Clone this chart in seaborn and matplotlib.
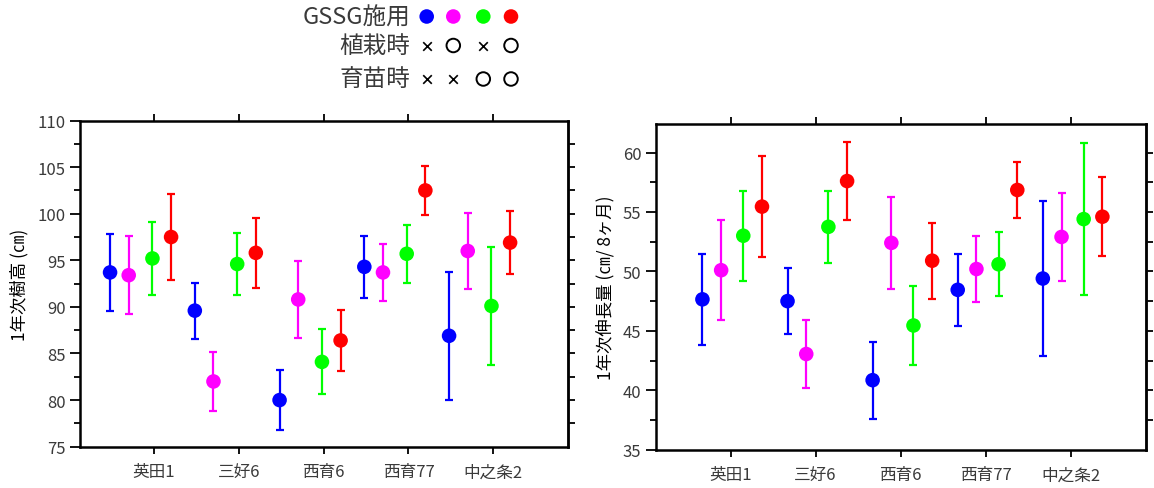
import matplotlib
matplotlib.use("Agg")
import matplotlib.pyplot as plt
from matplotlib.ticker import MultipleLocator, FixedLocator, NullFormatter
import numpy as np
import pandas as pd
import seaborn as sns

# ---- data -------------------------------------------------------------
cultivars = ["英田1", "三好6", "西育6", "西育77", "中之条2"]
treatments = ["T1", "T2", "T3", "T4"]
colors = ["#0000FF", "#FF00FF", "#00FF00", "#FF0000"]
planting_mark = ["×", "○", "×", "○"]   # GSSG at planting
nursery_mark = ["×", "×", "○", "○"]    # GSSG at nursery stage

# 1st-year tree height (cm): mean and SD per cultivar
height_t1 = [93.7, 89.6, 80.0, 94.3, 86.9]
height_t1_sd = [4.1, 3.0, 3.25, 3.3, 6.85]
height_t2 = [93.4, 82.0, 90.8, 93.7, 96.0]
height_t2_sd = [4.2, 3.2, 4.15, 3.1, 4.1]
height_t3 = [95.2, 94.6, 84.1, 95.7, 90.1]
height_t3_sd = [3.95, 3.3, 3.5, 3.1, 6.35]
height_t4 = [97.5, 95.8, 86.4, 102.5, 96.9]
height_t4_sd = [4.65, 3.75, 3.25, 2.6, 3.4]

# 1st-year shoot growth (cm / 8 months): mean and SD per cultivar
growth_t1 = [47.65, 47.5, 40.85, 48.45, 49.4]
growth_t1_sd = [3.85, 2.8, 3.25, 3.05, 6.5]
growth_t2 = [50.1, 43.05, 52.4, 50.2, 52.9]
growth_t2_sd = [4.2, 2.85, 3.9, 2.8, 3.7]
growth_t3 = [53.0, 53.75, 45.45, 50.6, 54.4]
growth_t3_sd = [3.8, 3.05, 3.35, 2.7, 6.4]
growth_t4 = [55.45, 57.6, 50.9, 56.85, 54.6]
growth_t4_sd = [4.25, 3.3, 3.2, 2.35, 3.3]


def long_frame(means, sds):
    rows = []
    for t, m_list, s_list in zip(treatments, means, sds):
        for i, (m, s) in enumerate(zip(m_list, s_list)):
            rows.append({"cultivar": i, "treatment": t, "mean": m, "sd": s})
    return pd.DataFrame(rows)


height_df = long_frame([height_t1, height_t2, height_t3, height_t4],
                       [height_t1_sd, height_t2_sd, height_t3_sd, height_t4_sd])
growth_df = long_frame([growth_t1, growth_t2, growth_t3, growth_t4],
                       [growth_t1_sd, growth_t2_sd, growth_t3_sd, growth_t4_sd])

# ---- style ------------------------------------------------------------
sns.set_theme(style="ticks")
plt.rcParams["font.family"] = ["Noto Sans CJK JP", "DejaVu Sans"]
TEXT = "#3a3a3a"

fig = plt.figure(figsize=(11.54, 4.89), dpi=100)
ax1 = fig.add_axes([0.0693, 0.0845, 0.4229, 0.6670])
ax2 = fig.add_axes([0.5685, 0.0783, 0.4246, 0.6661])


def draw_panel(ax, df, offsets, ylim, ylabel):
    df = df.copy()
    off = dict(zip(treatments, offsets))
    df["x"] = df["cultivar"] + df["treatment"].map(off)
    for t, c in zip(treatments, colors):
        sub = df[df["treatment"] == t]
        ax.errorbar(sub["x"], sub["mean"], yerr=sub["sd"], fmt="none",
                    ecolor=c, elinewidth=1.6, capsize=3.2, capthick=1.6,
                    zorder=2)
    sns.scatterplot(data=df, x="x", y="mean", hue="treatment",
                    palette=colors, hue_order=treatments, s=110,
                    edgecolor="none", linewidth=0, legend=False, ax=ax,
                    zorder=3)
    ax.set_xlim(-0.875, 4.883)
    ax.set_ylim(*ylim)
    ax.set_xticks(range(len(cultivars)))
    ax.set_xticklabels(cultivars, fontsize=12, color=TEXT)
    ax.set_xlabel("")
    ax.set_ylabel(ylabel, fontsize=12.5, color="black", labelpad=6)
    ax.yaxis.set_major_locator(MultipleLocator(5))
    ax.yaxis.set_minor_locator(MultipleLocator(2.5))
    ax.tick_params(axis="y", which="major", direction="out", length=7,
                   width=1.3, labelsize=12, labelcolor=TEXT, color="black")
    ax.tick_params(axis="y", which="minor", direction="out", length=4,
                   width=1.3, color="black")
    ax.tick_params(axis="x", which="major", direction="out", length=5,
                   width=1.3, top=True, bottom=True, color="black",
                   pad=7)
    for sp in ax.spines.values():
        sp.set_visible(True)
        sp.set_linewidth(1.8)
        sp.set_color("black")
    # unlabeled ticks on the right side every 2.5
    sec = ax.secondary_yaxis("right")
    lo = np.ceil(ylim[0] / 2.5) * 2.5 + 2.5
    hi = ylim[1]
    sec.yaxis.set_major_locator(FixedLocator(np.arange(lo, hi, 2.5)))
    sec.yaxis.set_major_formatter(NullFormatter())
    sec.tick_params(direction="out", length=5, width=1.3, color="black")
    sec.spines["right"].set_linewidth(1.8)


draw_panel(ax1, height_df, [-0.52, -0.30, -0.02, 0.20], (75, 110),
           "1年次樹高 (㎝)")
draw_panel(ax2, growth_df, [-0.33, -0.11, 0.15, 0.37], (35, 62.4),
           "1年次伸長量 (㎝/ 8ヶ月)")

# ---- treatment key at the top ---------------------------------------
key = fig.add_axes([0, 0, 1, 1], facecolor="none")
key.set_xlim(0, 1154)
key.set_ylim(489, 0)
key.axis("off")
col_x = [426.7, 453.3, 483.3, 511.0]
row_y = [17.5, 46.5, 80.0]
key.text(410, row_y[0] + 1, "GSSG施用", ha="right", va="center",
         fontsize=17, color=TEXT)
key.text(410, row_y[1], "植栽時", ha="right", va="center",
         fontsize=17, color=TEXT)
key.text(410, row_y[2], "育苗時", ha="right", va="center",
         fontsize=17, color=TEXT)
key.scatter(col_x, [row_y[0]] * 4, s=110, c=colors, edgecolors="none")
for row, marks in ((1, planting_mark), (2, nursery_mark)):
    for x, m in zip(col_x, marks):
        if m == "×":
            key.scatter([x], [row_y[row]], marker="x", s=38, c="black",
                        linewidths=1.2)
        else:
            key.scatter([x], [row_y[row]], marker="o", s=95,
                        facecolors="none", edgecolors="black",
                        linewidths=1.4)

fig.savefig("out.png", dpi=100)
